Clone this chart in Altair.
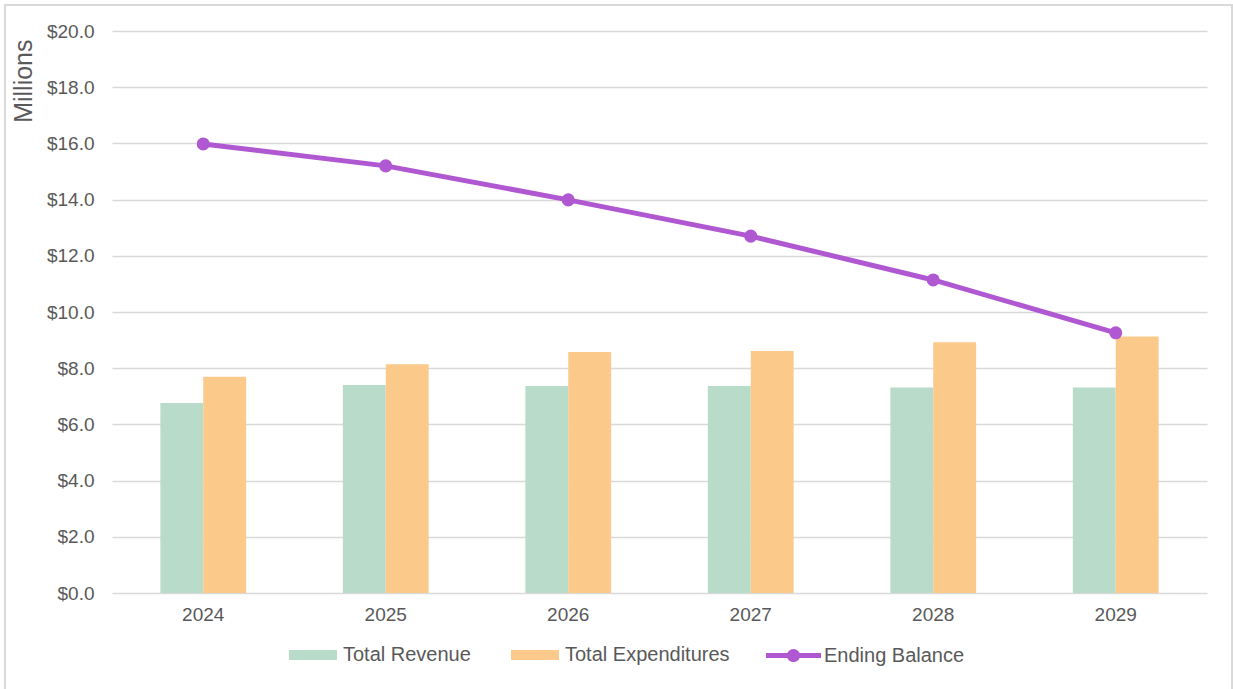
import altair as alt
import pandas as pd

years = ["2024", "2025", "2026", "2027", "2028", "2029"]
total_revenue = [6.76, 7.40, 7.37, 7.37, 7.31, 7.31]
total_expenditures = [7.70, 8.14, 8.58, 8.61, 8.92, 9.13]
ending_balance = [15.98, 15.20, 13.99, 12.70, 11.14, 9.26]
bar_series = ["Total Revenue", "Total Expenditures"]
line_series = ["Ending Balance"]
y_ticks = [0, 2, 4, 6, 8, 10, 12, 14, 16, 18, 20]

GREEN = "#B9DBC9"
ORANGE = "#FBC98A"
PURPLE = "#B058D2"
GRID = "#D9D9D9"
TEXT = "#595959"
FONT = "Liberation Sans"

bars_df = pd.DataFrame({
    "year": years + years,
    "series": [bar_series[0]] * len(years) + [bar_series[1]] * len(years),
    "value": total_revenue + total_expenditures,
})
line_df = pd.DataFrame({
    "year": years,
    "series": line_series * len(years),
    "value": ending_balance,
})

x_enc = alt.X(
    "year:N", sort=years,
    scale=alt.Scale(paddingInner=0.53, paddingOuter=0.265),
    axis=alt.Axis(title=None, labelAngle=0, domain=False, ticks=False, grid=False,
                  labelPadding=12, labelFontSize=19, labelColor=TEXT, labelFont=FONT),
)
y_enc = alt.Y(
    "value:Q",
    scale=alt.Scale(domain=[0, 20], nice=False, zero=True),
    axis=alt.Axis(values=y_ticks, format="$.1f", domain=False, ticks=False,
                  labelPadding=18, labelFontSize=19, labelColor=TEXT, labelFont=FONT,
                  grid=True, gridColor=GRID, gridWidth=1.6,
                  title="Millions", titleFontSize=25, titleColor=TEXT, titleFont=FONT,
                  titleFontWeight="normal", titleAngle=270, titleAlign="right",
                  titleBaseline="alphabetic", titleX=-81, titleY=8),
)

rect_path = "M-1,-0.21H1V0.21H-1Z"
line_path = ("M-1,-0.09H1V0.09H-1Z "
             "M0.24,0A0.24,0.24 0 1,1 -0.24,0A0.24,0.24 0 1,1 0.24,0Z")

bars = alt.Chart(bars_df).mark_bar().encode(
    x=x_enc,
    xOffset=alt.XOffset("series:N", sort=bar_series,
                        scale=alt.Scale(paddingInner=0, paddingOuter=0)),
    y=y_enc,
    fill=alt.Fill(
        "series:N",
        scale=alt.Scale(domain=bar_series, range=[GREEN, ORANGE]),
        legend=alt.Legend(title=None, orient="none", legendX=177, legendY=600,
                          direction="horizontal", symbolType=rect_path, symbolSize=2304,
                          symbolStrokeWidth=0, labelFontSize=20, labelColor=TEXT,
                          labelFont=FONT, labelOffset=6, columnPadding=40, padding=0,
                          labelLimit=400),
    ),
)

line = alt.Chart(line_df).mark_line(color=PURPLE, strokeWidth=5).encode(
    x=alt.X("year:N", sort=years),
    y=alt.Y("value:Q"),
)

points = alt.Chart(line_df).mark_circle(size=170, opacity=1).encode(
    x=alt.X("year:N", sort=years),
    y=alt.Y("value:Q"),
    color=alt.Color(
        "series:N",
        scale=alt.Scale(domain=line_series, range=[PURPLE]),
        legend=alt.Legend(title=None, orient="none", legendX=654, legendY=597,
                          direction="horizontal", symbolType=line_path, symbolSize=3025,
                          symbolStrokeWidth=0, symbolOpacity=1, labelFontSize=20,
                          labelColor=TEXT, labelFont=FONT, labelOffset=3, padding=0,
                          labelLimit=400),
    ),
)

border = alt.Chart(pd.DataFrame({"d": [0]})).mark_rect(
    filled=False, stroke=GRID, strokeWidth=2
).encode(
    x=alt.value(-107), x2=alt.value(1120), y=alt.value(-26), y2=alt.value(700)
)

chart = alt.layer(border, bars, line, points).resolve_scale(
    fill="independent", color="independent"
).properties(
    width=1095, height=562,
    autosize=alt.AutoSizeParams(type="none"),
    padding={"left": 112, "top": 31, "right": 26, "bottom": 96},
    background="white",
).configure_view(stroke=None)

chart.save("out.html", embed_options={"renderer": "svg", "actions": False})
